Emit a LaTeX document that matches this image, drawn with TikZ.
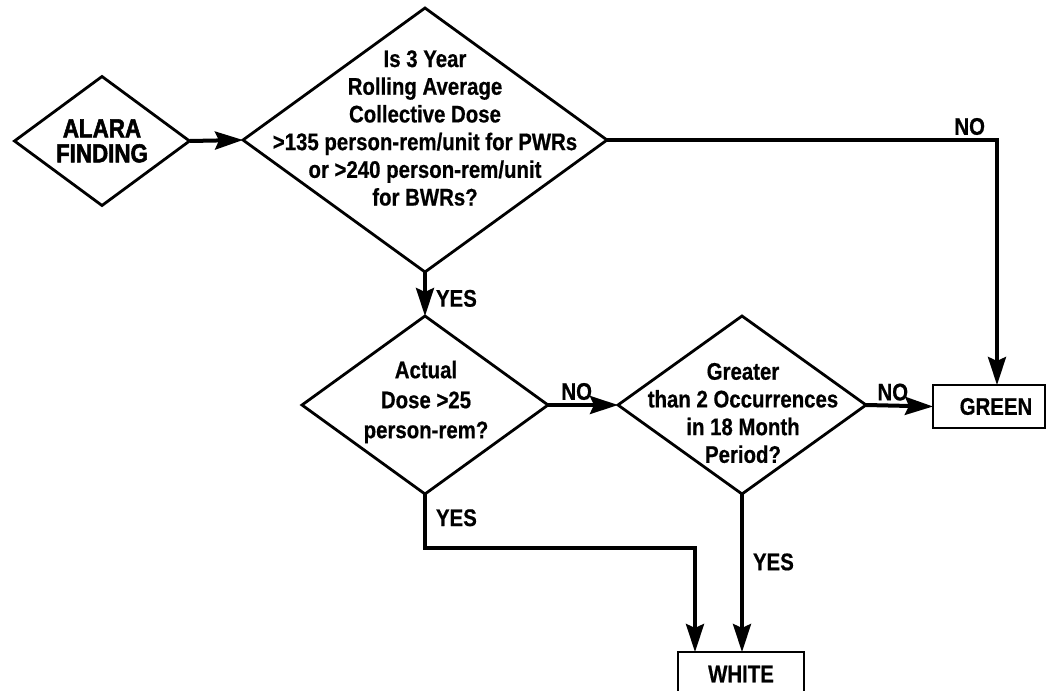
\documentclass[tikz,border=0pt]{standalone}
\usepackage{fontspec}
\setmainfont{Liberation Sans}[FakeStretch=0.85, FakeBold=0.6]
\newfontfamily\heavyfont{Liberation Sans}[FakeStretch=0.86, FakeBold=2]
\usetikzlibrary{shapes.geometric,arrows.meta,calc}

\begin{document}
\begin{tikzpicture}[x=0.5pt,y=-0.5pt,
  every node/.style={font=\bfseries\fontsize{12}{13.85}\selectfont},
  dec/.style={diamond, draw, line width=1.4pt, inner sep=0pt, outer sep=0pt},
  txt/.style={align=center, inner sep=0pt},
  outcome/.style={rectangle, draw, line width=1.2pt, inner sep=0pt, outer sep=0pt},
  flow/.style={line width=2pt, -{Stealth[length=14pt,width=9pt,inset=2pt]}},
  lbl/.style={inner sep=1.5pt}
]
\clip (0,0) rectangle (1046,691);

% decision diamonds
\node[dec, minimum width=87.5pt, minimum height=64.5pt] (alara) at (102,141) {};
\node[txt, font=\heavyfont\bfseries\fontsize{13}{12.5}\selectfont] (alaraT) at (102,141) {ALARA\\FINDING};

\node[dec, minimum width=182pt, minimum height=132pt] (q1) at (425,140) {};
\node[txt] (q1T) at (425,128) {Is 3 Year\\Rolling Average\\Collective Dose\\%
  >135 person-rem/unit for PWRs\\or >240 person-rem/unit\\for BWRs?};

\node[dec, minimum width=123pt, minimum height=89pt] (q2) at (425,405) {};
\node[txt, font=\bfseries\fontsize{12}{15}\selectfont] (q2T) at (426,402) {Actual\\Dose >25\\person-rem?};

\node[dec, minimum width=124pt, minimum height=89pt] (q3) at (742,405) {};
\node[txt] (q3T) at (743,413) {Greater\\than 2 Occurrences\\in 18 Month\\Period?};

% outcome boxes
\node[outcome, minimum width=56pt, minimum height=21.5pt] (green) at (989,406.5) {\hspace*{7pt}GREEN};
\node[outcome, minimum width=63pt, minimum height=22pt] (white) at (741,674) {WHITE};

% connectors
\draw[flow] (alara.east) -- (q1.west);
\draw[flow] (q1.east) -| node[lbl, anchor=south, pos=0.465] {NO} (green.north -| 997,0);
\draw[flow] (q1.south) -- node[lbl, anchor=west, pos=0.6, xshift=3pt] {YES} (q2.north);
\draw[flow] (q2.east) -- node[lbl, anchor=south, pos=0.41] {NO} (q3.west);
\draw[flow] (q3.east) -- node[lbl, anchor=south, pos=0.4] {NO} (green.west);
\coordinate (jn) at (695,548);
\draw[flow] (q2.south) |- node[lbl, anchor=west, pos=0.22, xshift=3pt] {YES} (jn) -- (jn |- white.north);
\draw[flow] (q3.south) -- node[lbl, anchor=west, pos=0.43, xshift=3pt] {YES} (q3.south |- white.north);
\end{tikzpicture}
\end{document}
